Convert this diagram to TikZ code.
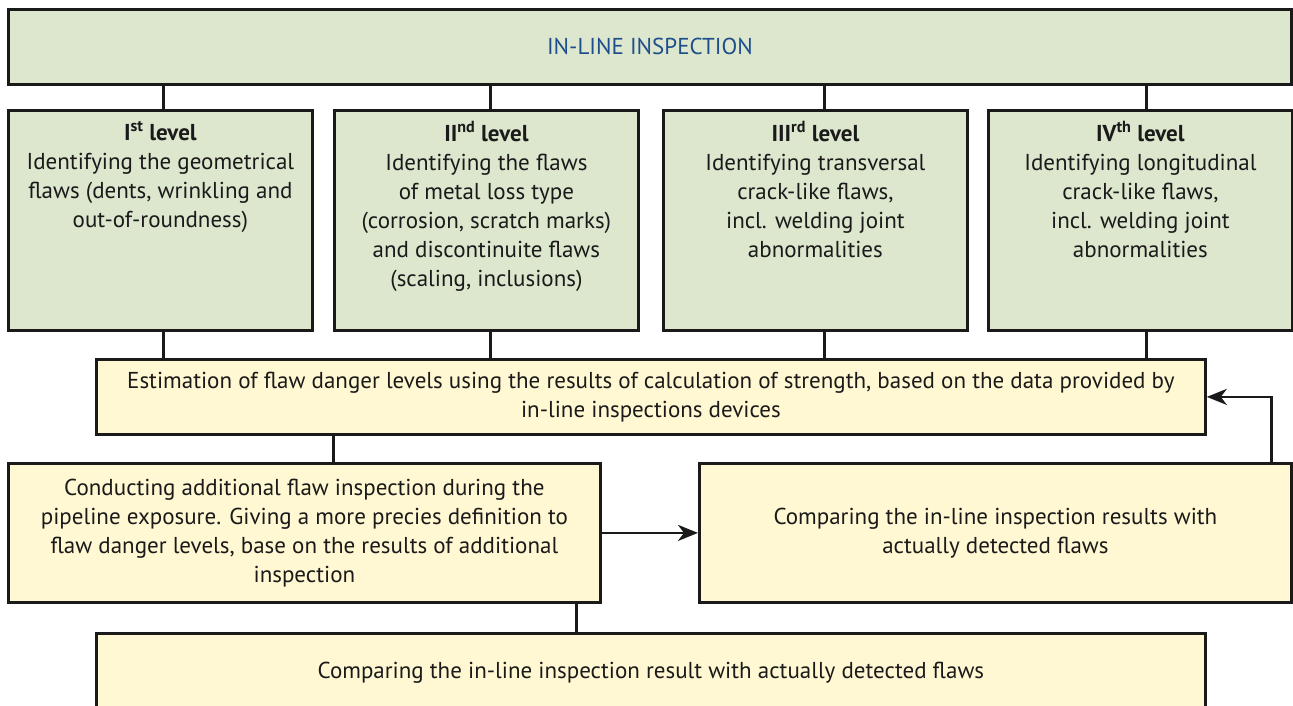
\documentclass[tikz,border=0pt]{standalone}
\usepackage{fontspec}
\setmainfont{PT Sans}
\usetikzlibrary{arrows.meta,positioning,calc}
\definecolor{ink}{HTML}{1A1A1A}
\definecolor{leafgreen}{HTML}{DCE7CE}
\definecolor{paleyellow}{HTML}{FFF8D2}
\definecolor{titleblue}{HTML}{1F4E8C}
\tikzset{frame/.style={draw=ink,line width=2.8pt,anchor=north west,inner sep=4pt,align=center,text=ink,font=\fontsize{23}{29}\selectfont},lvl/.style={frame,fill=leafgreen,minimum width=304pt,minimum height=220pt},card/.style={frame,fill=paleyellow},txt/.style={align=center,text=ink,inner sep=0pt,anchor=north,font=\fontsize{23}{29}\selectfont},link/.style={draw=ink,line width=2.8pt},arr/.style={link,-{Stealth[length=20pt,width=16pt,inset=6pt]}}}
\begin{document}
\begin{tikzpicture}[x=1pt,y=-1pt]
\useasboundingbox (0,0) rectangle (1293,706);

\node[frame,fill=leafgreen,minimum width=1283pt,minimum height=75pt,text=titleblue,font=\fontsize{23}{27}\selectfont] (ili) at (7,8) {IN-LINE INSPECTION};
\node[lvl] (lv1) at (7,109) {};
\node[lvl] (lv2) at (333,109) {};
\node[lvl] (lv3) at (662,109) {};
\node[lvl] (lv4) at (987,109) {};
\node[txt] (lv1t) at ([yshift=-12pt]lv1.north) {\textbf{I\textsuperscript{st} level}\\Identifying the geometrical\\flaws (dents, wrinkling and\\out-of-roundness)};
\node[txt] (lv2t) at ([yshift=-12pt]lv2.north) {\textbf{II\textsuperscript{nd} level}\\Identifying the flaws\\of metal loss type\\(corrosion, scratch marks)\\and discontinuite flaws\\(scaling, inclusions)};
\node[txt] (lv3t) at ([yshift=-12pt]lv3.north) {\textbf{III\textsuperscript{rd} level}\\Identifying transversal\\crack-like flaws,\\incl. welding joint\\abnormalities};
\node[txt] (lv4t) at ([yshift=-12pt]lv4.north) {\textbf{IV\textsuperscript{th} level}\\Identifying longitudinal\\crack-like flaws,\\incl. welding joint\\abnormalities};

\node[card,minimum width=1109pt,minimum height=75pt] (est) at (95,358) {Estimation of flaw danger levels using the results of calculation of strength, based on the data provided by\\in-line inspections devices};
\node[card,minimum width=592pt,minimum height=139pt] (onsite) at (7,462) {Conducting additional flaw inspection during the\\pipeline exposure. Giving a more precies definition to\\flaw danger levels, base on the results of additional\\inspection};
\node[card,minimum width=592pt,minimum height=139pt] (compare) at (698,462) {Comparing the in-line inspection results with\\actually detected flaws};
\node[card,minimum width=1109pt,minimum height=78pt] (final) at (95,632) {Comparing the in-line inspection result with actually detected flaws};

% connectors
\draw[link] ([xshift=3pt]lv1.north) -- ([xshift=3pt]lv1.north |- ili.south);
\draw[link] ([xshift=4pt]lv2.north) -- ([xshift=4pt]lv2.north |- ili.south);
\draw[link] ([xshift=9pt]lv3.north) -- ([xshift=9pt]lv3.north |- ili.south);
\draw[link] ([xshift=6pt]lv4.north) -- ([xshift=6pt]lv4.north |- ili.south);
\draw[link] ([xshift=3pt]lv1.south) -- ([xshift=3pt]lv1.south |- est.north);
\draw[link] ([xshift=4pt]lv2.south) -- ([xshift=4pt]lv2.south |- est.north);
\draw[link] ([xshift=9pt]lv3.south) -- ([xshift=9pt]lv3.south |- est.north);
\draw[link] ([xshift=6pt]lv4.south) -- ([xshift=6pt]lv4.south |- est.north);
\draw[link] ([xshift=29pt]onsite.north) -- ([xshift=29pt]onsite.north |- est.south);
\draw[arr] (onsite) -- (compare);
\draw[arr] ([xshift=-21pt]compare.north east) |- (est.east);
\draw[link] ([xshift=-25pt]onsite.south east) -- ([xshift=-25pt]onsite.south east |- final.north);
\end{tikzpicture}
\end{document}
